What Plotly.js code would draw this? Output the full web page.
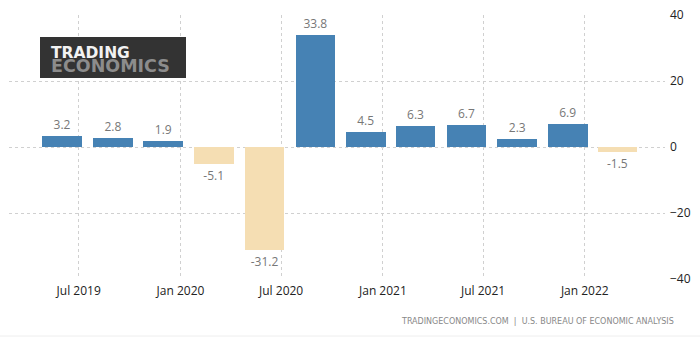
<!DOCTYPE html>
<html>
<head>
<meta charset="utf-8">
<script src="https://cdn.plot.ly/plotly-3.0.1.min.js"></script>
<style>html,body{margin:0;padding:0;background:#fff;}#chart{width:700px;height:337px;}</style>
</head>
<body>
<div id="chart"></div>
<script>
const quarters = ['2019-06-01','2019-09-01','2019-12-01','2020-03-01','2020-06-01','2020-09-01','2020-12-01','2021-03-01','2021-06-01','2021-09-01','2021-12-01','2022-03-01'];
const growth = [3.2, 2.8, 1.9, -5.1, -31.2, 33.8, 4.5, 6.3, 6.7, 2.3, 6.9, -1.5];
const yTicks = [-40, -20, 0, 20, 40];
const sourceText = 'TRADINGECONOMICS.COM  |  U.S. BUREAU OF ECONOMIC ANALYSIS';
const logoText = '<span style="font-size:15.5px;color:#f2f2f2"><b>TRADING</b></span><br><span style="font-size:17.5px;color:#8c8c8c"><b>ECONOMICS</b></span>';

const colors = growth.map(v => v >= 0 ? '#4682b4' : '#f5deb3');
const DAY = 86400000;

const trace = {
  type: 'bar',
  x: quarters,
  y: growth,
  width: quarters.map(() => 72 * DAY),
  marker: {color: colors, line: {width: 0}},
  text: growth.map(v => v.toFixed(1)),
  textposition: 'outside',
  cliponaxis: false,
  textfont: {family: 'Open Sans, sans-serif', size: 12, color: '#777'},
  hoverinfo: 'none'
};

const layout = {
  width: 700, height: 337,
  margin: {l: 9, r: 35, t: 15, b: 58},
  paper_bgcolor: '#fff', plot_bgcolor: '#fff',
  showlegend: false,
  bargap: 0,
  font: {family: 'Open Sans, sans-serif', size: 12, color: '#222'},
  xaxis: {
    type: 'date',
    range: ['2019-02-25', '2022-05-26'],
    tick0: '2019-07-01', dtick: 'M6',
    tickformat: '%b %Y',
    showgrid: true, gridcolor: '#d0d0d0', griddash: 'dot', gridwidth: 1,
    zeroline: false, showline: false, ticks: '',
    ticklabelstandoff: 3,
    tickfont: {size: 12, color: '#222'},
    fixedrange: true
  },
  yaxis: {
    range: [-40, 40],
    tickvals: yTicks,
    side: 'right',
    showgrid: true, gridcolor: '#d0d0d0', griddash: 'dot', gridwidth: 1,
    zeroline: false, showline: false, ticks: '',
    ticklabelstandoff: 4,
    tickfont: {size: 12, color: '#222'},
    fixedrange: true
  },
  shapes: [
    {type: 'rect', xref: 'paper', yref: 'paper', layer: 'above',
     x0: (40-9)/656, x1: (186-9)/656, y0: 1 - (37-15)/264, y1: 1 - (78-15)/264,
     fillcolor: '#333333', line: {width: 0}},
    {type: 'line', xref: 'paper', yref: 'paper', layer: 'below',
     x0: -9/656, x1: 691/656, y0: -(336-279)/264, y1: -(336-279)/264,
     line: {color: '#eeeeee', width: 1}}
  ],
  annotations: [
    {text: logoText, xref: 'paper', yref: 'paper', showarrow: false,
     x: (49-9)/656, y: 1 - (59.5-15)/264, xanchor: 'left', yanchor: 'middle', align: 'left',
     font: {family: 'DejaVu Sans, sans-serif', size: 11, color: '#f2f2f2'}},
    {text: sourceText, xref: 'paper', yref: 'paper', showarrow: false,
     x: (676-9)/656, y: -(321-279)/264, xanchor: 'right', yanchor: 'middle',
     font: {family: 'DejaVu Sans, sans-serif', size: 8, color: '#888'}}
  ]
};

Plotly.newPlot('chart', [trace], layout, {displayModeBar: false, staticPlot: true});
</script>
</body>
</html>
